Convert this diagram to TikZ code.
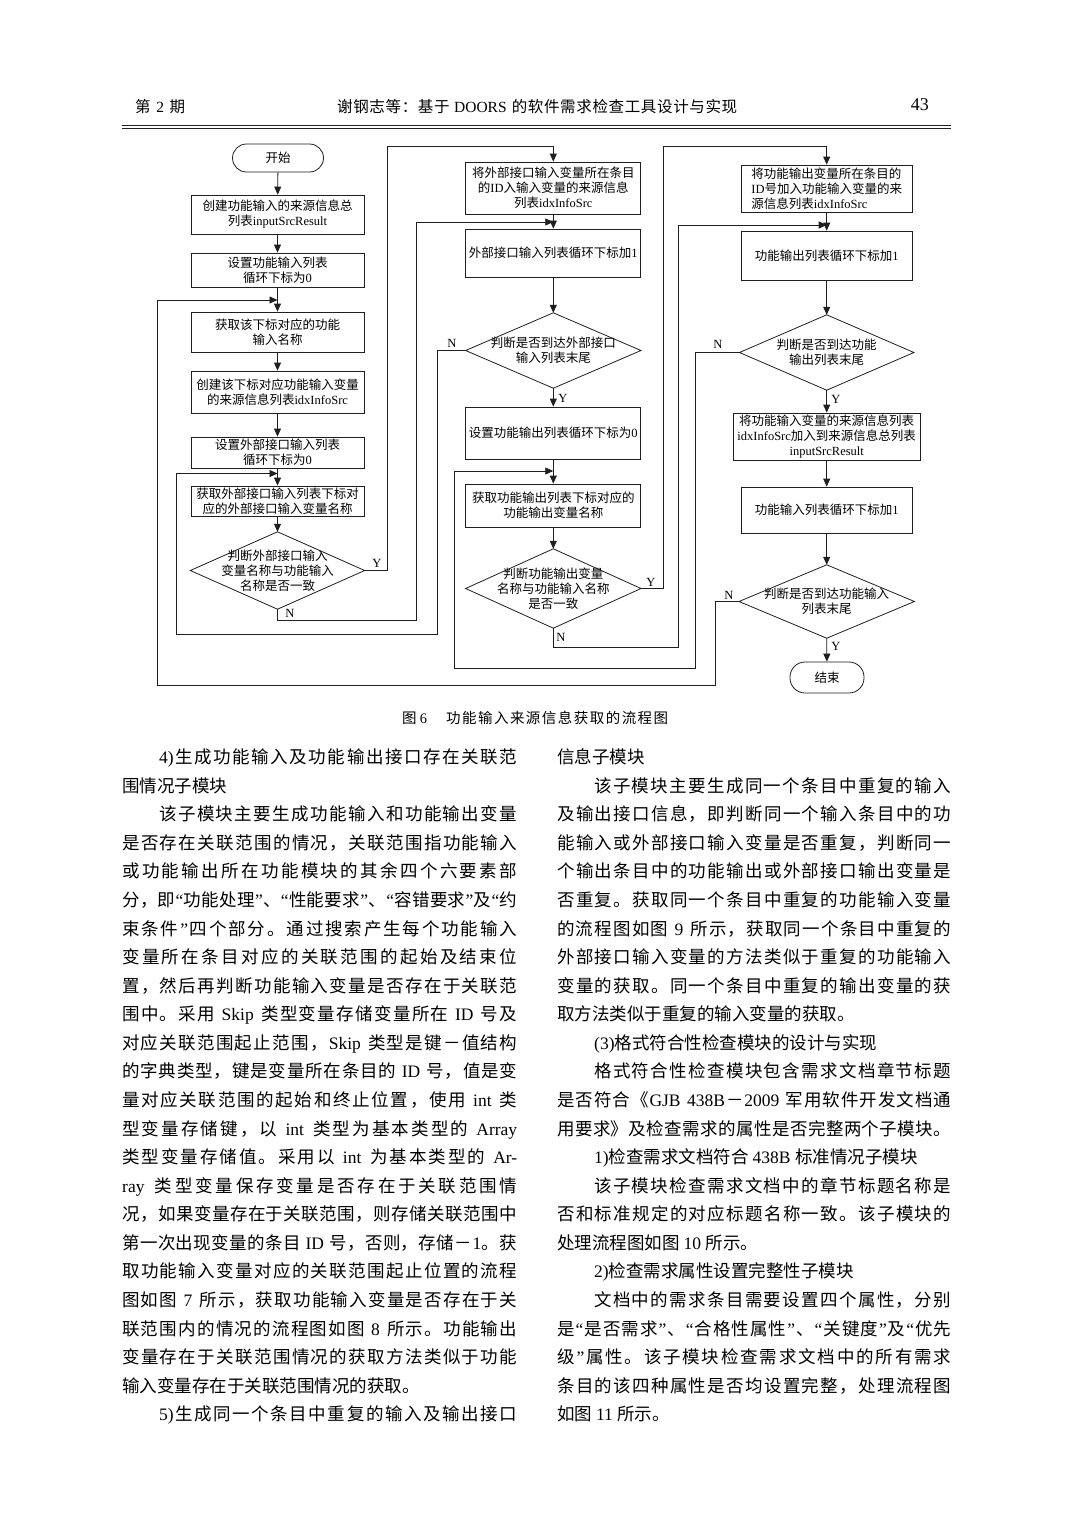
\documentclass[tikz,border=0pt]{standalone}
\usepackage{fontspec}
\setmainfont{Liberation Serif}
\newfontfamily\latinfont{Liberation Serif}
\newfontfamily\cjkfont{Noto Sans CJK SC}
\usetikzlibrary{arrows.meta}
% automatic font switching between Latin and CJK characters
\XeTeXinterchartokenstate=1
\newcount\cjkc
\cjkc="2E80
\loop
  \XeTeXcharclass\cjkc=7\relax
  \ifnum\cjkc<"9FFF \advance\cjkc by 1
\repeat
\cjkc="FF00
\loop
  \XeTeXcharclass\cjkc=7\relax
  \ifnum\cjkc<"FFEF \advance\cjkc by 1
\repeat
\XeTeXcharclass"201C=0\relax
\XeTeXcharclass"201D=0\relax
\XeTeXcharclass"2018=0\relax
\XeTeXcharclass"2019=0\relax
\XeTeXinterchartoks 4095 7 = {\cjkfont}
\XeTeXinterchartoks 0 7 = {\hskip0pt plus 1pt\relax\cjkfont}
\XeTeXinterchartoks 7 0 = {\hskip0pt plus 1pt\relax\latinfont}
\XeTeXinterchartoks 4095 0 = {\latinfont}
\XeTeXinterchartoks 7 7 = {\hskip0pt plus 1pt\relax}
\hbadness=10000 \hfuzz=100pt
\newcommand\fcfont{\fontsize{12.5}{15}\selectfont}
\newcommand\bodyfont{\fontsize{17.5}{21}\selectfont}
\definecolor{lc}{gray}{0.12}
\tikzset{
  box/.style={draw=lc, line width=0.8pt, minimum width=173pt, inner sep=1pt, align=center, font=\fcfont},
  box2/.style={box, minimum width=175pt},
  box3/.style={box, minimum width=171pt},
  dia/.style={minimum width=174pt, minimum height=77pt, inner sep=0pt, align=center, font=\fcfont},
  term/.style={draw=lc, line width=0.8pt, minimum width=91pt, minimum height=28pt, rounded corners=14pt, inner sep=1pt, font=\fcfont},
  ln/.style={draw=lc, line width=0.8pt},
  arr/.style={ln, -{Triangle[length=8pt,width=7pt]}},
  lab/.style={font=\fcfont, inner sep=0pt},
  tl/.style={anchor=base west, inner sep=0pt, font=\bodyfont},
  hd/.style={anchor=base west, inner sep=0pt, font=\fontsize{15.5}{18}\selectfont}
}
\newcommand\drawdia[1]{\draw[ln] (#1.north) -- (#1.east) -- (#1.south) -- (#1.west) -- cycle;}
\begin{document}
\begin{tikzpicture}[x=1pt,y=-1pt]
\useasboundingbox (0,0) rectangle (1071,1515);
\fill[white] (0,0) rectangle (1071,1515);
% ---------- header ----------
\node[hd] (h1) at (135,112) {\hbox to 50pt{第\hfil 2\hfil 期}};
\node[hd] (h2) at (337,112) {\hbox to 400pt{谢钢志等：基于 DOORS 的软件需求检查工具设计与实现}};
\node[anchor=base east, inner sep=0pt, font=\fontsize{18}{20}\selectfont] (h3) at (929,110.5) {43};
\draw[lc, line width=0.6pt] (122,125.5) -- (951,125.5);
\draw[lc, line width=1.3pt] (122,128.8) -- (951,128.8);
% ---------- flowchart column 1 ----------
\node[term] (start) at (278,158) {开始};
\node[box,minimum height=39pt] (b1) at (277.5,214.5) {创建功能输入的来源信息总\\列表inputSrcResult};
\node[box,minimum height=34pt] (b2) at (277.5,270) {设置功能输入列表\\循环下标为0};
\node[box,minimum height=40pt] (b3) at (277.5,332) {获取该下标对应的功能\\输入名称};
\node[box,minimum height=42pt] (b4) at (277.5,392) {创建该下标对应功能输入变量\\的来源信息列表idxInfoSrc};
\node[box,minimum height=31pt] (b5) at (277.5,452.5) {设置外部接口输入列表\\循环下标为0};
\node[box,minimum height=30pt] (b6) at (277.5,501) {获取外部接口输入列表下标对\\应的外部接口输入变量名称};
\node[dia] (d1) at (277.5,570.5) {判断外部接口输入\\变量名称与功能输入\\名称是否一致};
\drawdia{d1}
% ---------- column 2 ----------
\node[box2,minimum height=52pt] (b7) at (553.3,188) {将外部接口输入变量所在条目\\的ID入输入变量的来源信息\\列表idxInfoSrc};
\node[box2,minimum height=48pt] (b8) at (553.3,253) {外部接口输入列表循环下标加1};
\node[dia,minimum width=175pt,minimum height=75pt] (d2) at (553.3,350.5) {判断是否到达外部接口\\输入列表末尾};
\drawdia{d2}
\node[box2,minimum height=52pt] (b9) at (553.3,433) {设置功能输出列表循环下标为0};
\node[box2,minimum height=43pt] (b10) at (553.3,505.5) {获取功能输出列表下标对应的\\功能输出变量名称};
\node[dia,minimum width=175pt,minimum height=79pt] (d3) at (553.3,588.5) {判断功能输出变量\\名称与功能输入名称\\是否一致};
\drawdia{d3}
% ---------- column 3 ----------
\node[box3,minimum height=47pt,align=left] (b11) at (826.7,188.5) {将功能输出变量所在条目的\\ID号加入功能输入变量的来\\源信息列表idxInfoSrc};
\node[box3,minimum height=49pt] (b12) at (826.7,255.5) {功能输出列表循环下标加1};
\node[dia,minimum width=174pt,minimum height=75pt] (d4) at (826.7,352.5) {判断是否到达功能\\输出列表末尾};
\drawdia{d4}
\node[box,minimum width=187pt,minimum height=47pt] (b13) at (826.7,436.5) {将功能输入变量的来源信息列表\\idxInfoSrc加入到来源信息总列表\\inputSrcResult};
\node[box3,minimum height=46pt] (b14) at (826.7,510) {功能输入列表循环下标加1};
\node[dia,minimum width=175pt,minimum height=73pt] (d5) at (826.7,601.5) {判断是否到达功能输入\\列表末尾};
\drawdia{d5}
\node[term,minimum width=74pt,minimum height=31pt,rounded corners=15pt] (end) at (827,677.5) {结束};
% ---------- bend coordinates ----------
\coordinate (cY1) at (387,146);
\coordinate (cN1) at (416.7,620);
\coordinate (j1) at (553.3,222);
\coordinate (cN2) at (437,634);
\coordinate (cN2b) at (176,473.5);
\coordinate (j2) at (277.5,473.5);
\coordinate (cY3) at (663,146);
\coordinate (cN3) at (678,647);
\coordinate (j3) at (826.7,225);
\coordinate (cN4) at (695,668);
\coordinate (cN4b) at (454,471);
\coordinate (j4) at (553.3,471);
\coordinate (cN5) at (715,685);
\coordinate (cN5b) at (157,300);
\coordinate (j5) at (277.5,300);
% ---------- connectors ----------
\draw[arr] (start) -- (b1);
\draw[arr] (b1) -- (b2);
\draw[arr] (b2) -- (b3);
\draw[arr] (b3) -- (b4);
\draw[arr] (b4) -- (b5);
\draw[arr] (b5) -- (b6);
\draw[arr] (b6) -- (d1.north);
\draw[arr] (d1.east) -| (cY1) -| (b7.north);
\draw[arr] (d1.south) |- (cN1) |- (j1);
\draw[arr] (b7) -- (b8);
\draw[arr] (b8) -- (d2.north);
\draw[arr] (d2.west) -| (cN2) -| (cN2b) -- (j2);
\draw[arr] (d2.south) -- (b9);
\draw[arr] (b9) -- (b10);
\draw[arr] (b10) -- (d3.north);
\draw[arr] (d3.east) -| (cY3) -| (b11.north);
\draw[arr] (d3.south) |- (cN3) |- (j3);
\draw[arr] (b11) -- (b12);
\draw[arr] (b12) -- (d4.north);
\draw[arr] (d4.west) -| (cN4) -| (cN4b) -- (j4);
\draw[arr] (d4.south) -- (b13);
\draw[arr] (b13) -- (b14);
\draw[arr] (b14) -- (d5.north);
\draw[arr] (d5.west) -| (cN5) -| (cN5b) -- (j5);
\draw[arr] (d5.south) -- (end);
% ---------- Y / N labels ----------
\node[lab] (lY1) at (377,563) {Y};
\node[lab] (lN1) at (290,613) {N};
\node[lab] (lN2) at (452,343) {N};
\node[lab] (lY2) at (563,398) {Y};
\node[lab] (lY3) at (651,582) {Y};
\node[lab] (lN3) at (561,637) {N};
\node[lab] (lN4) at (718,344) {N};
\node[lab] (lY4) at (836,399) {Y};
\node[lab] (lN5) at (729,595) {N};
\node[lab] (lY5) at (836,646) {Y};
% ---------- caption ----------
\node[anchor=base west, inner sep=0pt, font=\fontsize{14.5}{17}\selectfont] (cap1) at (402,723.5) {图 6};
\node[anchor=base west, inner sep=0pt, font=\fontsize{14.5}{17}\selectfont] (cap2) at (446,723.5) {\hbox to 222pt{功能输入来源信息获取的流程图}};
% ---------- left column ----------
\node[tl] (l1) at (122,763.6) {\hbox to 395pt{\hskip37pt\relax 4)生成功能输入及功能输出接口存在关联范}};
\node[tl] (l2) at (122,792.2) {围情况子模块};
\node[tl] (l3) at (122,820.7) {\hbox to 395pt{\hskip37pt\relax 该子模块主要生成功能输入和功能输出变量}};
\node[tl] (l4) at (122,849.3) {\hbox to 395pt{是否存在关联范围的情况，关联范围指功能输入}};
\node[tl] (l5) at (122,877.9) {\hbox to 395pt{或功能输出所在功能模块的其余四个六要素部}};
\node[tl] (l6) at (122,906.5) {\hbox to 395pt{分，即“功能处理”、“性能要求”、“容错要求”及“约}};
\node[tl] (l7) at (122,935.0) {\hbox to 395pt{束条件”四个部分。通过搜索产生每个功能输入}};
\node[tl] (l8) at (122,963.6) {\hbox to 395pt{变量所在条目对应的关联范围的起始及结束位}};
\node[tl] (l9) at (122,992.2) {\hbox to 395pt{置，然后再判断功能输入变量是否存在于关联范}};
\node[tl] (l10) at (122,1020.7) {\hbox to 395pt{围中。采用 Skip 类型变量存储变量所在 ID 号及}};
\node[tl] (l11) at (122,1049.3) {\hbox to 395pt{对应关联范围起止范围，Skip 类型是键－值结构}};
\node[tl] (l12) at (122,1077.9) {\hbox to 395pt{的字典类型，键是变量所在条目的 ID 号，值是变}};
\node[tl] (l13) at (122,1106.4) {\hbox to 395pt{量对应关联范围的起始和终止位置，使用 int 类}};
\node[tl] (l14) at (122,1135.0) {\hbox to 395pt{型变量存储键，以 int 类型为基本类型的 Array}};
\node[tl] (l15) at (122,1163.6) {\hbox to 395pt{类型变量存储值。采用以 int 为基本类型的 Ar-}};
\node[tl] (l16) at (122,1192.2) {\hbox to 395pt{ray 类型变量保存变量是否存在于关联范围情}};
\node[tl] (l17) at (122,1220.7) {\hbox to 395pt{况，如果变量存在于关联范围，则存储关联范围中}};
\node[tl] (l18) at (122,1249.3) {\hbox to 395pt{第一次出现变量的条目 ID 号，否则，存储－1。获}};
\node[tl] (l19) at (122,1277.9) {\hbox to 395pt{取功能输入变量对应的关联范围起止位置的流程}};
\node[tl] (l20) at (122,1306.4) {\hbox to 395pt{图如图 7 所示，获取功能输入变量是否存在于关}};
\node[tl] (l21) at (122,1335.0) {\hbox to 395pt{联范围内的情况的流程图如图 8 所示。功能输出}};
\node[tl] (l22) at (122,1363.6) {\hbox to 395pt{变量存在于关联范围情况的获取方法类似于功能}};
\node[tl] (l23) at (122,1392.2) {输入变量存在于关联范围情况的获取。};
\node[tl] (l24) at (122,1420.7) {\hbox to 395pt{\hskip37pt\relax 5)生成同一个条目中重复的输入及输出接口}};
% ---------- right column ----------
\node[tl] (r1) at (557,763.6) {信息子模块};
\node[tl] (r2) at (557,792.2) {\hbox to 394pt{\hskip37pt\relax 该子模块主要生成同一个条目中重复的输入}};
\node[tl] (r3) at (557,820.7) {\hbox to 394pt{及输出接口信息，即判断同一个输入条目中的功}};
\node[tl] (r4) at (557,849.3) {\hbox to 394pt{能输入或外部接口输入变量是否重复，判断同一}};
\node[tl] (r5) at (557,877.9) {\hbox to 394pt{个输出条目中的功能输出或外部接口输出变量是}};
\node[tl] (r6) at (557,906.5) {\hbox to 394pt{否重复。获取同一个条目中重复的功能输入变量}};
\node[tl] (r7) at (557,935.0) {\hbox to 394pt{的流程图如图 9 所示，获取同一个条目中重复的}};
\node[tl] (r8) at (557,963.6) {\hbox to 394pt{外部接口输入变量的方法类似于重复的功能输入}};
\node[tl] (r9) at (557,992.2) {\hbox to 394pt{变量的获取。同一个条目中重复的输出变量的获}};
\node[tl] (r10) at (557,1020.7) {取方法类似于重复的输入变量的获取。};
\node[tl] (r11) at (557,1049.3) {\hskip37pt\relax (3)格式符合性检查模块的设计与实现};
\node[tl] (r12) at (557,1077.9) {\hbox to 394pt{\hskip37pt\relax 格式符合性检查模块包含需求文档章节标题}};
\node[tl] (r13) at (557,1106.4) {\hbox to 394pt{是否符合《GJB 438B－2009 军用软件开发文档通}};
\node[tl] (r14) at (557,1135.0) {\hbox to 394pt{用要求》及检查需求的属性是否完整两个子模块。}};
\node[tl] (r15) at (557,1163.6) {\hskip37pt\relax 1)检查需求文档符合 438B 标准情况子模块};
\node[tl] (r16) at (557,1192.2) {\hbox to 394pt{\hskip37pt\relax 该子模块检查需求文档中的章节标题名称是}};
\node[tl] (r17) at (557,1220.7) {\hbox to 394pt{否和标准规定的对应标题名称一致。该子模块的}};
\node[tl] (r18) at (557,1249.3) {处理流程图如图 10 所示。};
\node[tl] (r19) at (557,1277.9) {\hskip37pt\relax 2)检查需求属性设置完整性子模块};
\node[tl] (r20) at (557,1306.4) {\hbox to 394pt{\hskip37pt\relax 文档中的需求条目需要设置四个属性，分别}};
\node[tl] (r21) at (557,1335.0) {\hbox to 394pt{是“是否需求”、“合格性属性”、“关键度”及“优先}};
\node[tl] (r22) at (557,1363.6) {\hbox to 394pt{级”属性。该子模块检查需求文档中的所有需求}};
\node[tl] (r23) at (557,1392.2) {\hbox to 394pt{条目的该四种属性是否均设置完整，处理流程图}};
\node[tl] (r24) at (557,1420.7) {如图 11 所示。};
\end{tikzpicture}
\end{document}
